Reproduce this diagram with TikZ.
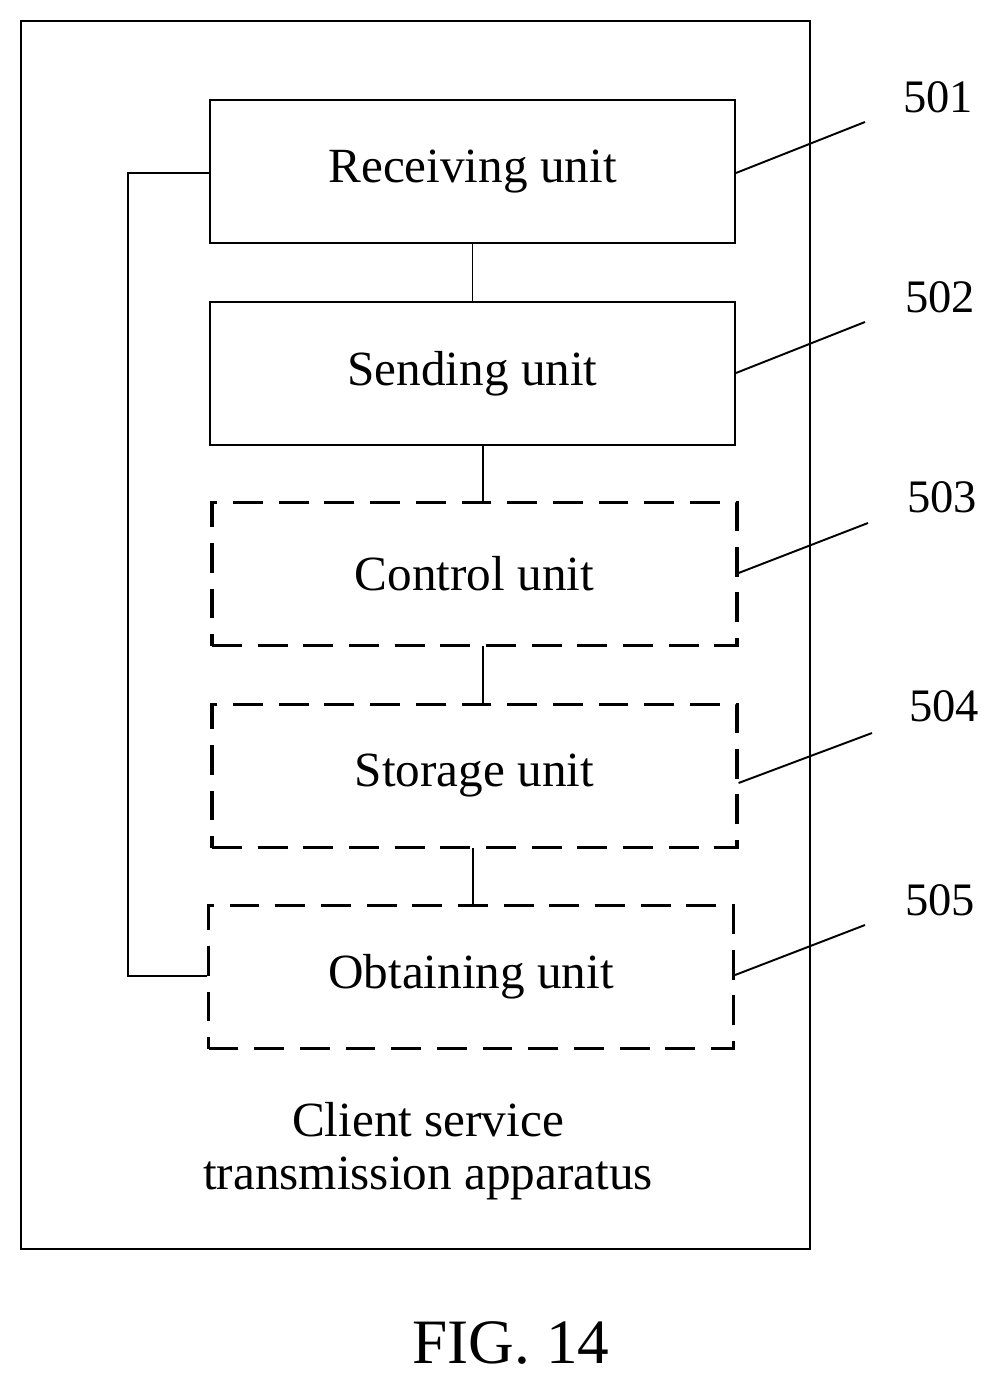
\documentclass[tikz,border=0pt]{standalone}
\usepackage{fontspec}
\setmainfont{Liberation Serif}
\usetikzlibrary{positioning}
\begin{document}
\begin{tikzpicture}[x=0.02cm,y=-0.02cm,line width=1.1pt,
  unit/.style={draw,minimum width=525*0.02cm,minimum height=143*0.02cm,font=\fontsize{28}{31}\selectfont},
  optunit/.style={unit,dash pattern=on 17pt off 9pt,line width=1.8pt},
  refnum/.style={font=\fontsize{26.5}{29}\selectfont}]
  \useasboundingbox (0,0) rectangle (1001,1385);
  % outer apparatus
  \draw (21,21) rectangle (810,1249);

  \node[unit] (recv) at (472.5,171.5) {Receiving unit};
  \node[unit] (send) at (472.5,373.5) {Sending unit};
  \node[optunit] (ctrl) at (474.5,574) {Control unit};
  \node[optunit] (stor) at (474.5,776) {Storage unit};
  \node[optunit] (obtn) at (471,977) {Obtaining unit};

  % links between units
  \draw (recv.south) -- (send.north);
  \draw (483,445) -- (483,502);
  \draw (483,646) -- (483,704);
  \draw (473,848) -- (473,905);
  \draw (recv.west |- 0,173) -- (128,173) -- (128,976) -- (obtn.west |- 0,976);

  % reference numerals
  \coordinate (l1) at (865,122);
  \coordinate (l2) at (865,322);
  \coordinate (l3) at (868,523);
  \coordinate (l4) at (872,733);
  \coordinate (l5) at (865,925);
  \draw (recv.east |- 0,173) -- (l1);
  \draw (send.east |- 0,373) -- (l2);
  \draw (ctrl.east |- 0,573) -- (l3);
  \draw (stor.east |- 0,783) -- (l4);
  \draw (obtn.east |- 0,975) -- (l5);
  \node[refnum] (n1) at (938,97) {501};
  \node[refnum] (n2) at (940,297) {502};
  \node[refnum] (n3) at (942,497) {503};
  \node[refnum] (n4) at (944,706) {504};
  \node[refnum] (n5) at (940,900) {505};

  \node[font=\fontsize{28}{30}\selectfont,align=center] (app) at (428,1151)
    {Client service\\transmission apparatus};
  \node[font=\fontsize{36}{38}\selectfont] (fig) at (511,1343) {FIG. 14};
\end{tikzpicture}
\end{document}
